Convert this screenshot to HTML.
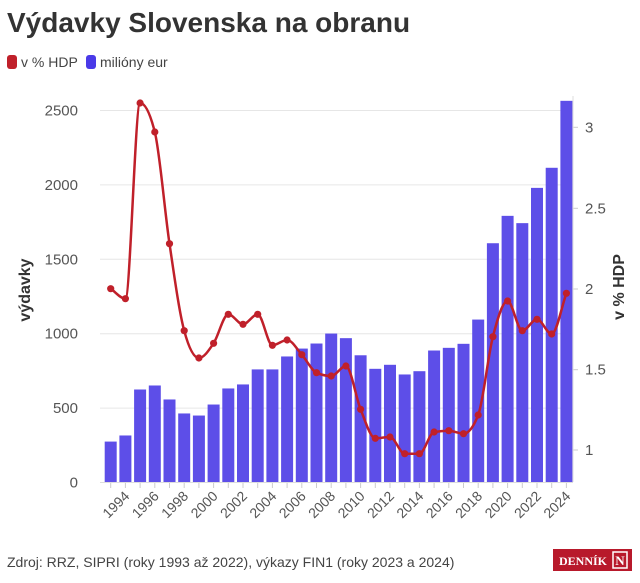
<!DOCTYPE html>
<html><head><meta charset="utf-8"><style>
body{margin:0;background:#fff;width:640px;height:578px;overflow:hidden;font-family:"Liberation Sans",sans-serif}
</style></head><body>
<svg id="s" width="640" height="578" xmlns="http://www.w3.org/2000/svg" font-family="Liberation Sans, sans-serif">
<text x="7" y="32" font-size="28" font-weight="bold" fill="#333">Výdavky Slovenska na obranu</text>
<rect x="7" y="55" width="10" height="14" rx="3" fill="#c0202a"/>
<text x="21" y="67" font-size="14" fill="#444">v % HDP</text>
<rect x="86" y="55" width="10" height="14" rx="3" fill="#4a3ae8"/>
<text x="100" y="67" font-size="14" fill="#444">milióny eur</text>
<g id="grid" stroke="#e6e6e6" stroke-width="1"></g>
<g id="bars" fill="#5d4ee8"></g>
<line x1="573" y1="96" x2="573" y2="482" stroke="#ddd"/>
<line x1="100" y1="482.5" x2="573" y2="482.5" stroke="#ddd"/>
<g id="ylab" font-size="15" fill="#555" text-anchor="end"></g>
<g id="rlab" font-size="15" fill="#555"></g>
<g id="xlab" font-size="14" fill="#555" text-anchor="end"></g>
<text transform="translate(30,290) rotate(-90)" font-size="16" font-weight="bold" fill="#333" text-anchor="middle">výdavky</text>
<text transform="translate(624,287) rotate(-90)" font-size="16" font-weight="bold" fill="#333" text-anchor="middle">v % HDP</text>
<path id="line" fill="none" stroke="#c0202a" stroke-width="2.5"/>
<g id="dots" fill="#c0202a"></g>
<text x="7" y="567" font-size="14" fill="#444">Zdroj: RRZ, SIPRI (roky 1993 až 2022), výkazy FIN1 (roky 2023 a 2024)</text>
<rect x="553" y="549" width="79" height="22" fill="#b8192b"/>
<text x="559" y="565" font-size="12" font-weight="bold" fill="#fff" font-family="Liberation Serif, serif">DENNÍK</text>
<rect x="613" y="552" width="14" height="16" fill="none" stroke="#fff" stroke-width="1.5"/>
<text x="620" y="565" font-size="13" font-weight="bold" fill="#fff" text-anchor="middle" font-family="Liberation Serif, serif">N</text>
</svg>
<script>
var NS="http://www.w3.org/2000/svg";
function el(p,t,a,txt){var e=document.createElementNS(NS,t);for(var k in a)e.setAttribute(k,a[k]);if(txt!=null)e.textContent=txt;document.getElementById(p).appendChild(e);return e;}
var bars=[275,316,625,652,558,464,450,524,632,659,760,760,847,900,934,1001,970,855,764,791,726,748,887,905,932,1095,1608,1792,1743,1980,2115,2565];
var ly=[288.7,298.7,103,132,243.7,330.7,358,343.3,314.3,324.3,314.3,345.3,340,354.7,372.7,376,366,409.3,438.3,437,453.7,453.7,432,430.7,433.7,415,336.7,301,330.7,319.3,334,293.3];
var x0=110.7,dx=14.7,base=482.5,k=74.4/500;
[0,500,1000,1500,2000,2500].forEach(function(v){var y=base-v*k;el("grid","line",{x1:100,x2:573,y1:y,y2:y});el("ylab","text",{x:78,y:y+5},v);});
[[1,450],[1.5,369.7],[2,289],[2.5,208.3],[3,127.3]].forEach(function(a){el("rlab","text",{x:585,y:a[1]+5},a[0]);el("grid","line",{x1:573,x2:578,y1:a[1],y2:a[1],stroke:"#ccc"});});
var xs=[];
for(var i=0;i<32;i++){var x=x0+i*dx;xs.push(x);var h=bars[i]*k;el("bars","rect",{x:x-6,y:base-h,width:12,height:h});
el("grid","line",{x1:x,x2:x,y1:483,y2:488,stroke:"#ccc"});
el("dots","circle",{cx:x,cy:ly[i],r:3.6});
if((1993+i)%2==0){el("xlab","text",{transform:"translate("+(x+5)+",497) rotate(-45)"},1993+i);}}
// monotone cubic
var n=32,s=[],m=[];
for(var i=0;i<n-1;i++)s.push((ly[i+1]-ly[i])/dx);
m[0]=s[0];m[n-1]=s[n-2];
for(var i=1;i<n-1;i++){if(s[i-1]*s[i]<=0)m[i]=0;else{var a=s[i-1],b=s[i];m[i]=Math.sign(a)*Math.min(Math.abs(a),Math.abs(b),0.5*Math.abs((a+b)/2)*2>0?Math.abs((a+b)/2):0)*1;
var p=(a+b)/2;m[i]=(Math.sign(a)+Math.sign(b))*Math.min(Math.abs(a),Math.abs(b),0.5*Math.abs(p));}}
var d="M"+xs[0]+","+ly[0];
for(var i=0;i<n-1;i++){var h3=dx/3;d+=" C"+(xs[i]+h3)+","+(ly[i]+m[i]*h3)+" "+(xs[i+1]-h3)+","+(ly[i+1]-m[i+1]*h3)+" "+xs[i+1]+","+ly[i+1];}
document.getElementById("line").setAttribute("d",d);
</script>
</body></html>
